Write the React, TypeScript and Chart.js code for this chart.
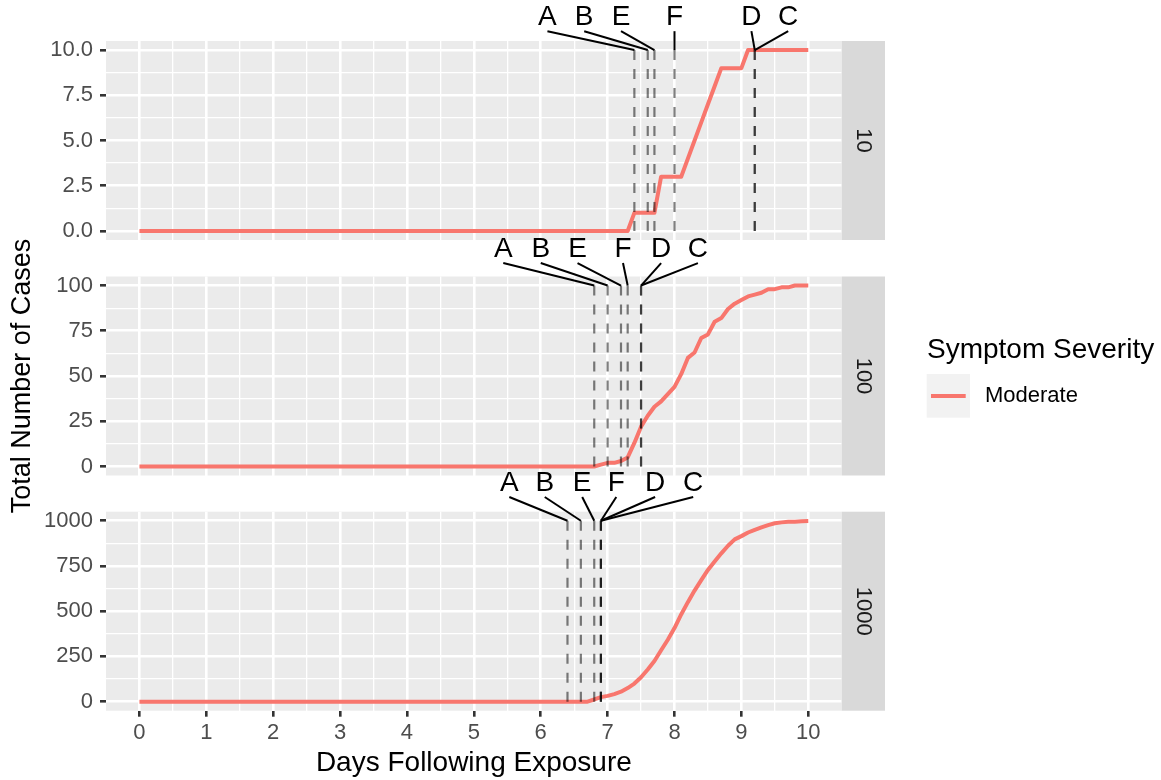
import React, { useEffect, useRef } from 'react';
import { Chart, registerables } from 'chart.js';
Chart.register(...registerables);

const W = 1161;
const H = 780;
const FONT = '"Liberation Sans", Arial, Helvetica, sans-serif';

// ---------- data ----------
const xTicks = [0, 1, 2, 3, 4, 5, 6, 7, 8, 9, 10];
const xTickLabels = ['0', '1', '2', '3', '4', '5', '6', '7', '8', '9', '10'];

const facetNames = ['10', '100', '1000'];

const days10 = [0, 7.3, 7.4, 7.7, 7.8, 8.1, 8.2, 8.3, 8.4, 8.5, 8.6, 8.7, 9.0, 9.1, 10];
const cases10 = [0, 0, 1, 1, 3, 3, 4, 5, 6, 7, 8, 9, 9, 10, 10];

const days100 = [0, 6.8, 6.9, 7.0, 7.1, 7.2, 7.3, 7.4, 7.5, 7.6, 7.7, 7.8, 7.9, 8.0, 8.1, 8.2, 8.3, 8.4, 8.5, 8.6, 8.7, 8.8, 8.9, 9.0, 9.1, 9.2, 9.3, 9.4, 9.5, 9.6, 9.7, 9.8, 9.9, 10];
const cases100 = [0, 0, 1, 2, 2, 3, 5, 13, 22, 28, 33, 36, 40, 44, 51, 60, 63, 71, 73, 80, 82, 87, 90, 92, 94, 95, 96, 98, 98, 99, 99, 100, 100, 100];

const days1000 = [0, 6.7, 6.8, 6.9, 7.0, 7.1, 7.2, 7.3, 7.4, 7.5, 7.6, 7.7, 7.8, 7.9, 8.0, 8.1, 8.2, 8.3, 8.4, 8.5, 8.6, 8.7, 8.8, 8.9, 9.0, 9.1, 9.2, 9.3, 9.4, 9.5, 9.6, 9.7, 9.8, 9.9, 10];
const cases1000 = [0, 0, 12, 25, 32, 42, 55, 75, 100, 135, 178, 225, 284, 342, 407, 482, 550, 614, 672, 728, 775, 820, 862, 897, 915, 935, 950, 963, 976, 986, 991, 994, 995, 997, 998];

const markerNames = ['A', 'B', 'E', 'F', 'D', 'C'];
const markers10 = [7.4, 7.6, 7.7, 8.0, 9.2, 9.2];
const markers100 = [6.8, 7.0, 7.2, 7.3, 7.5, 7.5];
const markers1000 = [6.4, 6.6, 6.8, 6.9, 6.9, 6.9];

// repelled label anchors (days, and level in each panel's units)
const labelDays10 = [6.1, 6.65, 7.2, 8.0, 9.15, 9.7];
const labelDays100 = [5.44, 6.0, 6.55, 7.23, 7.8, 8.35];
const labelDays1000 = [5.53, 6.06, 6.62, 7.13, 7.71, 8.28];
const labelLevel10 = 11.8;
const labelLevel100 = 120;
const labelLevel1000 = 1207;

const yTicks10 = [0, 2.5, 5, 7.5, 10];
const yTickLabels10 = ['0.0', '2.5', '5.0', '7.5', '10.0'];
const yTicks100 = [0, 25, 50, 75, 100];
const yTickLabels100 = ['0', '25', '50', '75', '100'];
const yTicks1000 = [0, 250, 500, 750, 1000];
const yTickLabels1000 = ['0', '250', '500', '750', '1000'];

const xTitle = 'Days Following Exposure';
const yTitle = 'Total Number of Cases';
const legendTitle = 'Symptom Severity';
const seriesName = 'Moderate';

// ---------- layout / style ----------
const RED = '#F8766D';
const PANEL_LEFT = 106;
const PANEL_RIGHT = 841.7;
const PANEL_TOPS = [41, 276.5, 511.7];
const PANEL_BOTTOMS = [240, 475.5, 710.7];
const STRIP_W = 43.3;

const panels = [
  { days: days10, cases: cases10, markers: markers10, labelDays: labelDays10, labelLevel: labelLevel10, yTicks: yTicks10, yLabels: yTickLabels10 },
  { days: days100, cases: cases100, markers: markers100, labelDays: labelDays100, labelLevel: labelLevel100, yTicks: yTicks100, yLabels: yTickLabels100 },
  { days: days1000, cases: cases1000, markers: markers1000, labelDays: labelDays1000, labelLevel: labelLevel1000, yTicks: yTicks1000, yLabels: yTickLabels1000 },
];

function withMinor(major: number[]) {
  const out: number[] = [];
  major.forEach((v, i) => {
    out.push(v);
    if (i < major.length - 1) out.push((v + major[i + 1]) / 2);
  });
  return out;
}

function makeConfig(i: number): any {
  const p = panels[i];
  const n = Number(facetNames[i]);
  const isBottom = i === panels.length - 1;
  const isMiddle = i === 1;
  const xAxisH = isBottom ? H - PANEL_BOTTOMS[i] : 0;

  const datasets: any[] = [
    {
      label: seriesName,
      data: p.days.map((d, k) => ({ x: d, y: p.cases[k] })),
      borderColor: RED,
      borderWidth: 4,
      pointRadius: 0,
      tension: 0,
      borderJoinStyle: 'round',
      order: 10,
    },
    ...p.markers.map((d, k) => ({
      label: markerNames[k],
      data: [{ x: d, y: 0 }, { x: d, y: n }],
      borderColor: 'rgba(0,0,0,0.5)',
      borderWidth: 2.2,
      borderDash: [10, 9],
      pointRadius: 0,
      order: 1,
    })),
  ];

  const decor = {
    id: 'decor' + i,
    beforeDraw(chart: any) {
      const { ctx, chartArea: a } = chart;
      ctx.save();
      ctx.fillStyle = '#EBEBEB';
      ctx.fillRect(a.left, a.top, a.right - a.left, a.bottom - a.top);
      ctx.restore();
    },
    afterDatasetsDraw(chart: any) {
      const { ctx } = chart;
      const xs = chart.scales.x;
      const ys = chart.scales.y;
      const ly = ys.getPixelForValue(p.labelLevel);
      ctx.save();
      ctx.strokeStyle = '#000';
      ctx.lineWidth = 2;
      p.markers.forEach((d, k) => {
        const lx = xs.getPixelForValue(p.labelDays[k]);
        ctx.beginPath();
        ctx.moveTo(lx, ly + 13.7);
        ctx.lineTo(xs.getPixelForValue(d), ys.getPixelForValue(n));
        ctx.stroke();
      });
      ctx.fillStyle = '#000';
      ctx.font = `28px ${FONT}`;
      ctx.textAlign = 'center';
      ctx.textBaseline = 'middle';
      p.markers.forEach((d, k) => {
        ctx.fillText(markerNames[k], xs.getPixelForValue(p.labelDays[k]), ly);
      });
      ctx.restore();
    },
    afterDraw(chart: any) {
      const { ctx, chartArea: a } = chart;
      ctx.save();
      ctx.fillStyle = '#D9D9D9';
      ctx.fillRect(a.right, a.top, STRIP_W, a.bottom - a.top);
      ctx.translate(a.right + STRIP_W / 2, (a.top + a.bottom) / 2);
      ctx.rotate(Math.PI / 2);
      ctx.fillStyle = '#1A1A1A';
      ctx.font = `22px ${FONT}`;
      ctx.textAlign = 'center';
      ctx.textBaseline = 'middle';
      ctx.fillText(facetNames[i], 0, 0);
      ctx.restore();
      if (isMiddle) {
        ctx.save();
        ctx.fillStyle = '#000';
        ctx.font = `28px ${FONT}`;
        ctx.textAlign = 'left';
        ctx.textBaseline = 'middle';
        ctx.fillText(legendTitle, 927, 350);
        ctx.fillStyle = '#F2F2F2';
        ctx.fillRect(926.7, 374, 43.3, 43.7);
        ctx.strokeStyle = RED;
        ctx.lineWidth = 4;
        ctx.beginPath();
        ctx.moveTo(931, 396);
        ctx.lineTo(965.7, 396);
        ctx.stroke();
        ctx.fillStyle = '#000';
        ctx.font = `22px ${FONT}`;
        ctx.fillText(seriesName, 985, 396);
        ctx.restore();
      }
    },
  };

  const xMajor = (v: number) => xTicks.includes(v);
  const yMajor = (v: number) => p.yTicks.includes(v);

  return {
    type: 'line',
    data: { datasets },
    plugins: [decor],
    options: {
      responsive: false,
      maintainAspectRatio: false,
      devicePixelRatio: 1,
      animation: false,
      events: [],
      layout: {
        padding: {
          left: 0,
          right: W - PANEL_RIGHT,
          top: PANEL_TOPS[i],
          bottom: H - PANEL_BOTTOMS[i] - xAxisH,
        },
      },
      plugins: { legend: { display: false }, tooltip: { enabled: false } },
      scales: {
        x: {
          type: 'linear',
          min: -0.5,
          max: 10.5,
          afterBuildTicks: (s: any) => {
            s.ticks = withMinor(xTicks).map((v) => ({ value: v }));
          },
          afterFit: (s: any) => {
            s.height = xAxisH;
          },
          ticks: {
            display: isBottom,
            autoSkip: false,
            maxRotation: 0,
            padding: 3,
            color: '#4D4D4D',
            font: { family: FONT, size: 22 },
            callback: (v: number) => {
              const k = xTicks.indexOf(v);
              return k >= 0 ? xTickLabels[k] : '';
            },
          },
          grid: {
            color: '#FFFFFF',
            lineWidth: (c: any) => (c.tick && xMajor(c.tick.value) ? 2.6 : 1.3),
            drawTicks: isBottom,
            tickLength: 6,
            tickWidth: 2.6,
            tickColor: (c: any) => (c.tick && xMajor(c.tick.value) ? '#333333' : 'rgba(0,0,0,0)'),
          },
          border: { display: false },
          title: {
            display: isBottom,
            text: xTitle,
            color: '#000',
            font: { family: FONT, size: 28 },
            padding: { top: 0, bottom: 0 },
          },
        },
        y: {
          type: 'linear',
          position: 'left',
          min: -0.05 * n,
          max: 1.05 * n,
          afterBuildTicks: (s: any) => {
            s.ticks = withMinor(p.yTicks).map((v) => ({ value: v }));
          },
          afterFit: (s: any) => {
            s.width = PANEL_LEFT;
          },
          ticks: {
            autoSkip: false,
            padding: 7,
            color: '#4D4D4D',
            font: { family: FONT, size: 22 },
            callback: (v: number) => {
              const k = p.yTicks.indexOf(v);
              return k >= 0 ? p.yLabels[k] : '';
            },
          },
          grid: {
            color: '#FFFFFF',
            lineWidth: (c: any) => (c.tick && yMajor(c.tick.value) ? 2.6 : 1.3),
            drawTicks: true,
            tickLength: 6,
            tickWidth: 2.6,
            tickColor: (c: any) => (c.tick && yMajor(c.tick.value) ? '#333333' : 'rgba(0,0,0,0)'),
          },
          border: { display: false },
          title: {
            display: isMiddle,
            text: yTitle,
            color: '#000',
            font: { family: FONT, size: 27 },
            padding: { top: 6, bottom: 0 },
          },
        },
      },
    },
  };
}

export default function App() {
  const r0 = useRef<HTMLCanvasElement>(null);
  const r1 = useRef<HTMLCanvasElement>(null);
  const r2 = useRef<HTMLCanvasElement>(null);
  const refs = [r0, r1, r2];

  useEffect(() => {
    const charts = refs.map((r, i) => new Chart(r.current as HTMLCanvasElement, makeConfig(i)));
    return () => charts.forEach((c) => c.destroy());
  }, []);

  return (
    <div style={{ position: 'fixed', left: 0, top: 0, width: W, height: H, background: '#FFFFFF', overflow: 'hidden' }}>
      {refs.map((r, i) => (
        <canvas
          key={i}
          ref={r}
          width={W}
          height={H}
          style={{ position: 'absolute', left: 0, top: 0, width: W, height: H }}
        />
      ))}
    </div>
  );
}
